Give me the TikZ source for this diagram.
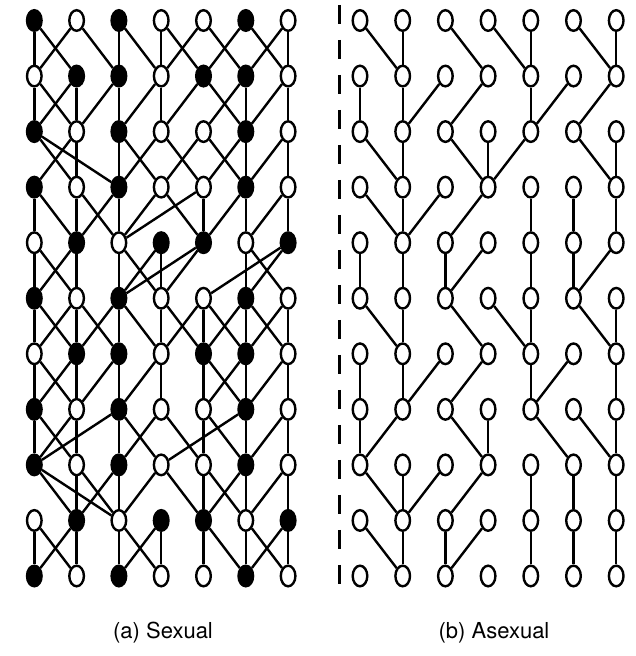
\documentclass[tikz,border=0pt]{standalone}
\usepackage{fontspec}
\setmainfont{TeX Gyre Heros}
\usetikzlibrary{shapes.geometric}
\begin{document}
\begin{tikzpicture}[x=1pt,y=1pt,
  ind/.style={ellipse,draw=black,line width=2.4pt,minimum width=14.6pt,minimum height=20.6pt,inner sep=0pt},
  lnk/.style={line width=2.4pt,black},
  sep/.style={line width=2.4pt,black,dash pattern=on 19pt off 16pt},
  lbl/.style={font=\fontsize{22}{26}\selectfont,anchor=base}]
\useasboundingbox (0,0) rectangle (636,656);
% left panel (sexual)
\foreach \r/\p in {1/{1,0,1,0,0,1,0},2/{0,1,1,0,1,1,0},3/{1,0,1,0,0,1,0},4/{1,0,1,0,0,1,0},
  5/{0,1,0,1,1,0,1},6/{1,0,1,0,0,1,0},7/{0,1,1,0,1,1,0},8/{1,0,1,0,0,1,0},
  9/{1,0,1,0,0,1,0},10/{0,1,0,1,1,0,1},11/{1,0,1,0,0,1,0}}{
  \foreach \f [count=\c] in \p {
    \ifnum\f=1 \def\fc{black}\else\def\fc{white}\fi
    \node[ind,fill=\fc] (L\c-\r) at ({34.3+42.3*(\c-1)},{635.5-55.55*(\r-1)}) {};
  }
}
% right panel (asexual)
\foreach \c in {1,...,7}{
  \foreach \r in {1,...,11}{
    \node[ind,fill=white] (R\c-\r) at ({360+42.7*(\c-1)},{635.5-55.55*(\r-1)}) {};
  }
}
% left links
\foreach \r/\lst in {
  1/{1/1,1/2,2/1,2/3,3/3,3/4,4/4,4/5,5/4,5/6,6/5,6/7,7/6,7/7},
  2/{1/1,1/2,2/1,2/2,3/2,3/3,4/3,4/4,5/4,5/6,6/5,6/6,7/6,7/7},
  3/{1/2,1/3,2/1,2/2,3/3,3/4,4/3,4/5,5/4,5/6,6/5,6/6,7/6,7/7},
  4/{1/1,1/2,2/2,2/3,3/2,3/3,4/3,4/5,5/3,5/5,6/5,6/6,7/6,7/7},
  5/{1/1,1/2,2/1,2/2,3/3,3/4,4/3,4/4,5/3,5/4,6/6,6/7,7/5,7/6},
  6/{1/1,1/2,2/1,2/2,2/3,3/2,3/3,3/4,4/4,4/5,5/4,5/5,5/6,6/5,6/6,6/7,7/6,7/7},
  7/{1/1,1/2,2/1,2/2,3/2,3/3,4/3,4/4,5/5,5/6,6/5,6/6,7/6,7/7},
  8/{1/1,1/2,2/1,2/2,3/1,3/3,3/4,4/3,4/5,5/5,5/6,6/4,6/6,7/6,7/7},
  9/{1/2,1/3,2/2,2/3,3/2,3/3,4/3,4/5,5/5,5/6,6/5,6/6,7/6,7/7},
  10/{1/1,1/2,2/1,2/2,3/3,3/4,4/3,4/4,5/5,5/6,6/6,6/7,7/6,7/7}}{
  \pgfmathtruncatemacro\rr{\r+1}
  \foreach \a/\b in \lst { \draw[lnk] (L\a-\r) -- (L\b-\rr); }
}
% right links
\foreach \r/\lst in {
  1/{1/2,2/2,3/4,4/5,5/5,6/7,7/7},
  2/{1/1,2/2,3/2,4/3,5/5,6/5,7/6},
  3/{1/2,2/2,3/4,4/4,5/4,6/7,7/7},
  4/{1/2,2/2,3/2,4/3,5/5,6/6,7/7},
  5/{1/1,2/2,3/3,4/3,5/5,6/6,7/6},
  6/{1/2,2/2,3/4,4/5,5/5,6/7,7/7},
  7/{1/1,2/2,3/2,4/3,5/5,6/5,7/7},
  8/{1/1,2/1,3/4,4/4,5/6,6/7,7/7},
  9/{1/2,2/2,3/2,4/3,5/5,6/6,7/7},
  10/{1/2,2/2,3/3,4/3,5/5,6/6,7/7}}{
  \pgfmathtruncatemacro\rr{\r+1}
  \foreach \a/\b in \lst { \draw[lnk] (R\a-\r) -- (R\b-\rr); }
}
% separator
\coordinate (dtop) at (339.5,651);
\coordinate (dbot) at (339.5,69);
\draw[sep] (dtop) -- (dbot);
% captions
\node[lbl] (capa) at (163,17) {(a) Sexual};
\node[lbl] (capb) at (494,17) {(b) Asexual};
\end{tikzpicture}
\end{document}
